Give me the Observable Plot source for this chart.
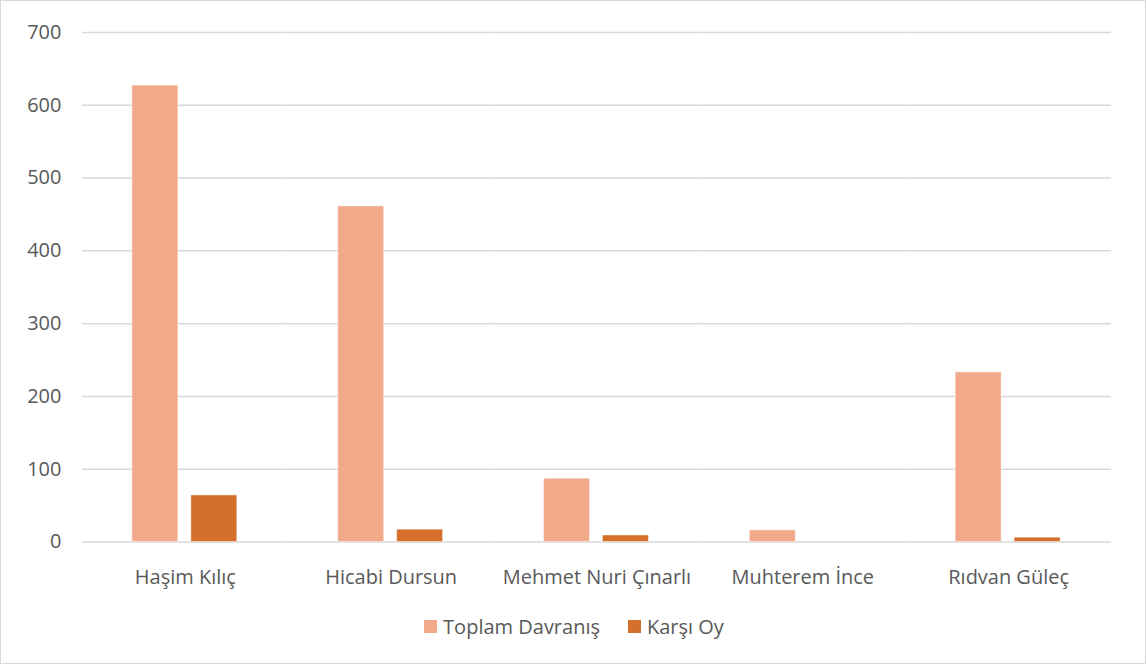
<!DOCTYPE html>
<html><head><meta charset="utf-8">
<script src="https://cdn.jsdelivr.net/npm/d3@7"></script>
<script src="https://cdn.jsdelivr.net/npm/@observablehq/plot@0.6"></script>
<style>
html,body{margin:0;padding:0;background:#fff;}
#wrap{position:relative;width:1146px;height:664px;box-sizing:border-box;border:1px solid #D9D9D9;font-family:"Open Sans",sans-serif;}
#chart{position:absolute;left:-1px;top:-1px;}
#legend{position:absolute;top:612px;left:0;width:1146px;display:flex;justify-content:center;gap:28px;font-size:20px;color:#595959;}
#legend span.item{display:flex;align-items:center;gap:6px;}
#legend i{display:inline-block;width:13px;height:13px;}
</style></head>
<body><div id="wrap"><div id="chart"></div><div id="legend"></div></div>
<script>
const categories = ["Haşim Kılıç", "Hicabi Dursun", "Mehmet Nuri Çınarlı", "Muhterem İnce", "Rıdvan Güleç"];
const series = ["Toplam Davranış", "Karşı Oy"];
const toplamDavranis = [627, 461, 87, 16, 233];
const karsiOy = [64, 17, 9, 0, 6];
const colors = ["#F2A98A", "#D4702C"];
const yTicks = [0, 100, 200, 300, 400, 500, 600, 700];

const data = [];
categories.forEach((c, i) => {
  data.push({cat: c, series: series[0], value: toplamDavranis[i]});
  data.push({cat: c, series: series[1], value: karsiOy[i]});
});

const chart = Plot.plot({
  width: 1146,
  height: 600,
  marginTop: 32,
  marginBottom: 58,
  marginLeft: 82,
  marginRight: 34,
  style: {fontFamily: "'Open Sans', sans-serif", fontSize: "20px", color: "#595959", background: "transparent"},
  fx: {domain: categories, padding: 0, label: null},
  x: {domain: series, paddingInner: 0.22, paddingOuter: 0.85, axis: null},
  y: {domain: [0, 700], ticks: yTicks, label: null},
  color: {domain: series, range: colors},
  marks: [
    Plot.ruleY(yTicks, {stroke: "#D9D9D9", strokeWidth: 1.5}),
    Plot.barY(data, {fx: "cat", x: "series", y: "value", fill: "series", stroke: "#ffffff", strokeOpacity: 0.45, strokeWidth: 1, filter: d => d.value > 0}),
    Plot.axisY({ticks: yTicks, tickSize: 0, tickPadding: 21, fontSize: 20, fill: "#595959", label: null}),
    Plot.axisFx({anchor: "bottom", tickSize: 0, tickPadding: 28, fontSize: 20, fill: "#595959", label: null})
  ]
});
document.getElementById("chart").appendChild(chart);

const legend = document.getElementById("legend");
series.forEach((s, i) => {
  const el = document.createElement("span");
  el.className = "item";
  el.innerHTML = `<i style="background:${colors[i]}"></i>${s}`;
  legend.appendChild(el);
});
</script></body></html>
